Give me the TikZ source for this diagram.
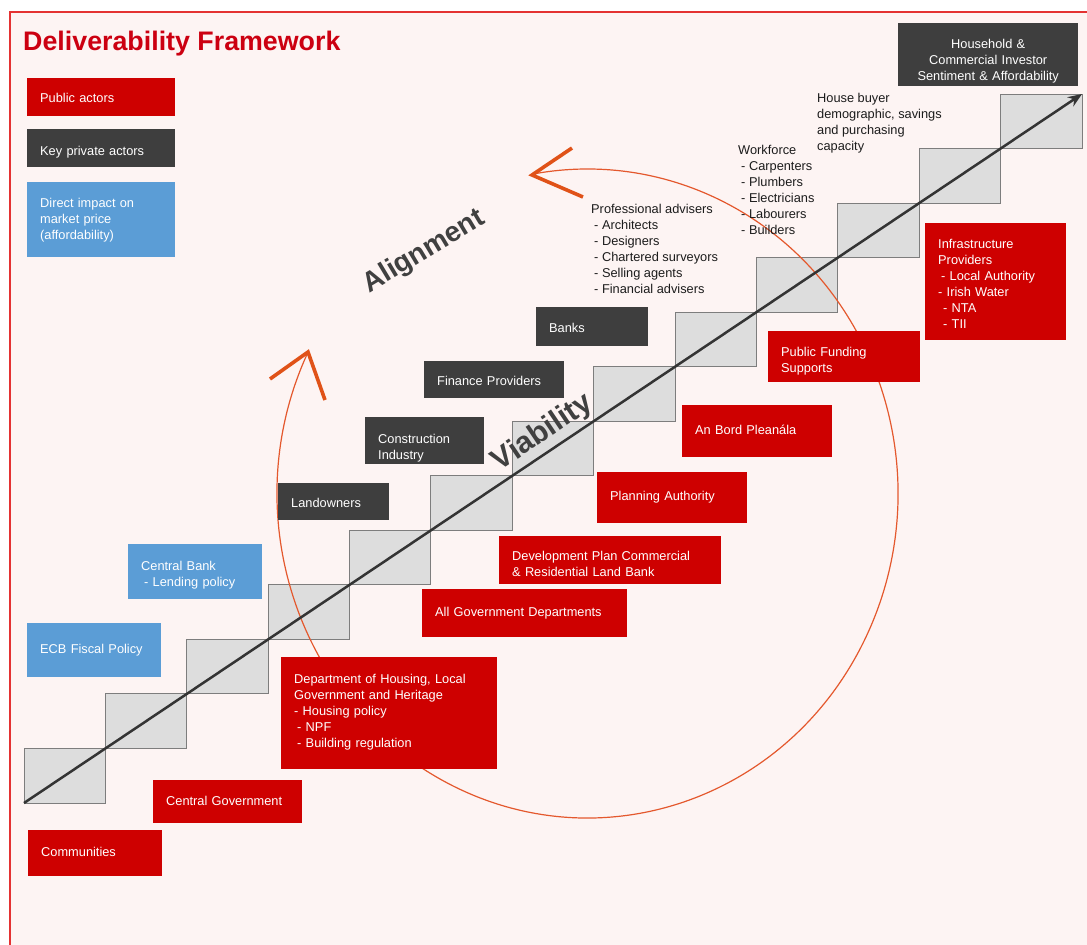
\documentclass[tikz,border=0pt]{standalone}
\usepackage{fontspec}
\setmainfont{Liberation Sans}
\usetikzlibrary{arrows.meta}
\definecolor{pubred}{RGB}{206,0,0}
\definecolor{privgrey}{RGB}{62,62,62}
\definecolor{mktblue}{RGB}{91,157,214}
\definecolor{bgpink}{RGB}{253,244,243}
\definecolor{framered}{RGB}{228,50,50}
\definecolor{titlered}{RGB}{204,0,17}
\definecolor{stairfill}{RGB}{221,221,221}
\definecolor{stairedge}{RGB}{125,125,125}
\definecolor{risegrey}{RGB}{52,52,52}
\definecolor{cycleorange}{RGB}{228,88,45}
\definecolor{headorange}{RGB}{224,82,24}
\definecolor{wordgrey}{RGB}{64,64,64}
\definecolor{textdark}{RGB}{28,28,28}
% #1 = downward shift of the text inside the box
\newcommand\actorbox[8][0]{%
  \pgfmathsetmacro\abw{#6-#4-26}%
  \pgfmathsetmacro\abh{#7-#5}%
  \pgfmathsetmacro\abr{11.2+2*#1}%
  \node[#2, text width=\abw pt, minimum height=\abh pt] (#3) at (#4,#5) {\rule{0pt}{\abr pt}#8\strut};}
\begin{document}
\begin{tikzpicture}[x=1pt,y=-1pt,
  actor/.style={rectangle, anchor=north west, inner xsep=13pt, inner ysep=0pt,
    align=left, text=white, font=\fontsize{12.8}{16}\selectfont},
  pub/.style={actor, fill=pubred},
  priv/.style={actor, fill=privgrey},
  mkt/.style={actor, fill=mktblue},
  plaintxt/.style={anchor=north west, inner sep=0pt, align=left, text=textdark,
    font=\fontsize{12.8}{16}\selectfont},
  titletxt/.style={anchor=base west, inner sep=0pt, text=titlered,
    font=\fontsize{26.8}{30}\selectfont\bfseries},
  bigword/.style={inner sep=0pt, text=wordgrey, font=\fontsize{28}{32}\selectfont\bfseries},
  stairbox/.style={fill=stairfill, draw=stairedge, line width=1pt},
  risearrow/.style={draw=risegrey, line width=2.5pt, -{Stealth[length=14pt,width=11pt]}},
  cyclearc/.style={draw=cycleorange, line width=1.2pt},
  vhead/.style={draw=headorange, line width=3.6pt, line join=miter}
]
\useasboundingbox (0,0) rectangle (1087,945);
\fill[white] (0,0) rectangle (1087,945);
\fill[bgpink] (10,12) rectangle (1087,945);
\draw[framered, line width=1.5pt] (10,945) -- (10,12) -- (1087,12);

% staircase
\foreach \i in {0,...,12} {
  \pgfmathsetmacro\xa{24+81.385*\i}
  \pgfmathsetmacro\xb{24+81.385*(\i+1)}
  \pgfmathsetmacro\ya{803-54.538*\i}
  \pgfmathsetmacro\yb{803-54.538*(\i+1)}
  \path[stairbox] (\xa,\yb) rectangle (\xb,\ya);
}

% cycle arc with open arrow heads
\draw[cyclearc] (306.8,354.8) arc[start angle=154.7, end angle=459.7, x radius=310.5pt, y radius=324.5pt];
\coordinate (alA) at (270,379);
\coordinate (alTip) at (308,352);
\coordinate (alB) at (325,400);
\draw[vhead] (alA) -- (alTip) -- (alB);
\coordinate (arA) at (572,148);
\coordinate (arTip) at (532,175);
\coordinate (arB) at (583,197);
\draw[vhead] (arA) -- (arTip) -- (arB);

% rising arrow
\coordinate (stairfoot) at (24,803);
\coordinate (stairtop) at (1082,94);
\draw[risearrow] (stairfoot) -- (stairtop);

% title and legend
\node[titletxt] (title) at (23,50) {Deliverability Framework};
\actorbox[2]{pub}{legpub}{27}{78}{175}{116}{Public actors}
\actorbox[4]{priv}{legpriv}{27}{129}{175}{167}{Key private actors}
\actorbox[0.5]{mkt}{legmkt}{27}{182}{175}{257}{Direct impact on\\market price\\(affordability)}

% key private actors
\actorbox[6.5]{priv, align=center}{household}{898}{23}{1078}{86}{Household \&\\Commercial Investor\\Sentiment \& Affordability}
\actorbox[2.5]{priv}{banks}{536}{307}{648}{346}{Banks}
\actorbox[2.5]{priv}{finance}{424}{361}{564}{398}{Finance Providers}
\actorbox[7.5]{priv}{construction}{365}{417}{484}{464}{Construction\\Industry}
\actorbox[2.5]{priv}{landowners}{278}{483}{389}{520}{Landowners}

% market price
\actorbox[3.5]{mkt}{centralbank}{128}{544}{262}{599}{Central Bank\\\hspace*{3pt}- Lending policy}
\actorbox[-5]{mkt}{ecb}{27}{623}{161}{677}{\mbox{ECB Fiscal Policy}}

% public actors
\actorbox[3.5]{pub}{infra}{925}{223}{1066}{340}{Infrastructure\\Providers\\\hspace*{3pt}- Local Authority\\- Irish Water\\\hspace*{5pt}- NTA\\\hspace*{5pt}- TII}
\actorbox[4.5]{pub}{funding}{768}{331}{920}{382}{Public Funding\\Supports}
\actorbox[-3]{pub}{bord}{682}{405}{832}{457}{An Bord Pleanála}
\actorbox[-3.5]{pub}{planning}{597}{472}{747}{523}{Planning Authority}
\actorbox[5]{pub}{devplan}{499}{536}{721}{584}{Development Plan Commercial\\\& Residential Land Bank}
\actorbox[-1]{pub}{govdepts}{422}{589}{627}{637}{All Government Departments}
\actorbox[-1]{pub}{housing}{281}{657}{497}{769}{Department of Housing, Local\\Government and Heritage\\- Housing policy\\\hspace*{3pt}- NPF\\\hspace*{3pt}- Building regulation}
\actorbox[0.5]{pub}{centralgov}{153}{780}{302}{823}{\mbox{Central Government}}
\actorbox[0]{pub}{communities}{28}{830}{162}{876}{Communities}

% plain texts
\node[plaintxt] (buyer) at (817,91.3) {\strut House buyer\\demographic, savings\\and purchasing\\capacity};
\node[plaintxt] (workforce) at (738,143.3) {\strut Workforce\\\hspace*{3pt}- Carpenters\\\hspace*{3pt}- Plumbers\\\hspace*{3pt}- Electricians\\\hspace*{3pt}- Labourers\\\hspace*{3pt}- Builders};
\node[plaintxt] (advisers) at (591,202.3) {\strut Professional advisers\\\hspace*{3pt}- Architects\\\hspace*{3pt}- Designers\\\hspace*{3pt}- Chartered surveyors\\\hspace*{3pt}- Selling agents\\\hspace*{3pt}- Financial advisers};

% big words
\node[bigword, rotate=31] (alignment) at (424,252) {Alignment};
\node[bigword, rotate=34, font=\fontsize{30}{34}\selectfont\bfseries] (viability) at (543,433) {Viability};
\end{tikzpicture}
\end{document}
